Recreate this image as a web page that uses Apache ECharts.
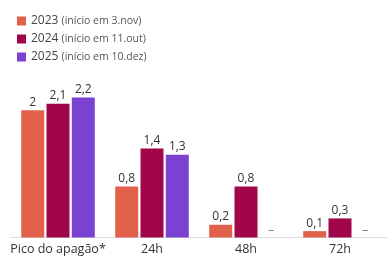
<!DOCTYPE html>
<html>
<head>
<meta charset="utf-8">
<script src="https://cdn.jsdelivr.net/npm/echarts@6/dist/echarts.min.js"></script>
<style>
  html, body { margin: 0; padding: 0; background: #fff; }
  #chart { width: 387px; height: 256px; }
</style>
</head>
<body>
<div id="chart"></div>
<script>
const categories = ['Pico do apagão*', '24h', '48h', '72h']
const seriesNames = ['2023', '2024', '2025']
const seriesNotes = ['(início em 3.nov)', '(início em 11.out)', '(início em 10.dez)']
const values2023 = [2, 0.8, 0.2, 0.1]
const values2024 = [2.1, 1.4, 0.8, 0.3]
const values2025 = [2.2, 1.3, null, null]
const colors = ['#e2614b', '#a1064b', '#7b42d2']

const fmt = v => String(v).replace('.', ',')

function toData(arr) {
  // missing values drawn as a dash on the baseline
  return arr.map(v => v == null
    ? { value: 0, label: { formatter: '–', color: '#777', distance: 1 } }
    : v)
}

const chart = echarts.init(document.getElementById('chart'))

chart.setOption({
  animation: false,
  textStyle: { fontFamily: 'Open Sans' },
  legend: {
    orient: 'vertical',
    left: 12,
    top: 10,
    itemWidth: 9,
    itemHeight: 9,
    itemGap: 6,
    icon: 'rect',
    formatter: name => {
      const i = seriesNames.indexOf(name)
      return `{y|${name}} {n|${seriesNotes[i]}}`
    },
    textStyle: {
      rich: {
        y: { fontSize: 12, color: '#444', fontFamily: 'Open Sans' },
        n: { fontSize: 10.5, color: '#555', fontFamily: 'Open Sans' },
      },
    },
  },
  grid: { left: 11, right: -6, top: 97.5, bottom: 18.5 },
  xAxis: {
    type: 'category',
    data: categories,
    axisLine: { lineStyle: { color: '#ddd' } },
    axisTick: { show: false },
    axisLabel: { color: '#333', fontSize: 12.5, margin: 5, interval: 0 },
  },
  yAxis: {
    type: 'value',
    min: 0,
    max: 2.2,
    show: false,
  },
  series: [values2023, values2024, values2025].map((vals, i) => ({
    name: seriesNames[i],
    type: 'bar',
    data: toData(vals),
    barWidth: 23,
    barGap: '10%',
    itemStyle: { color: colors[i] },
    label: {
      show: true,
      position: 'top',
      distance: 2,
      color: '#333',
      fontSize: 12,
      formatter: p => fmt(p.value),
    },
  })),
})
</script>
</body>
</html>
